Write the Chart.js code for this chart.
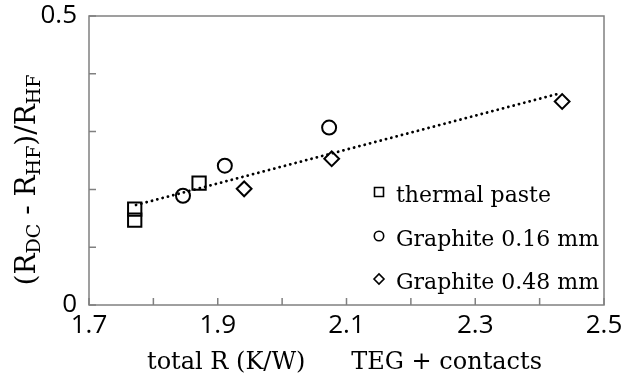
<!DOCTYPE html>
<html><head><meta charset="utf-8">
<script src="https://cdn.jsdelivr.net/npm/chart.js@4.4.0/dist/chart.umd.min.js"></script>
<style>html,body{margin:0;padding:0;background:#fff}#wrap{width:632px;height:380px;position:relative}</style>
</head><body><div id="wrap"><canvas id="c"></canvas></div>
<script>
const seriesNames = ['thermal paste', 'Graphite 0.16 mm', 'Graphite 0.48 mm'];
const pasteX = [1.771, 1.771, 1.871];
const pasteY = [0.166, 0.147, 0.211];
const g016X = [1.846, 1.911, 2.073];
const g016Y = [0.189, 0.241, 0.307];
const g048X = [1.941, 2.077, 2.435];
const g048Y = [0.201, 0.253, 0.352];
const trendX = [1.773, 2.431];
const trendY = [0.173, 0.366];
const xTickLabels = ['1.7', '1.9', '2.1', '2.3', '2.5'];
const yTickLabels = ['0', '0.5'];
const xTitle = 'total R (K/W)      TEG + contacts';
const yTitleParts = [['(R', false], ['DC', true], [' - R', false], ['HF', true], [')/R', false], ['HF', true]];

const pts = (xs, ys) => xs.map((x, i) => ({x: x, y: ys[i]}));
const styles = ['rect', 'circle', 'rectRot'];
const radii = [9.4, 7, 7.4];

const datasets = [
  {label: seriesNames[0], data: pts(pasteX, pasteY)},
  {label: seriesNames[1], data: pts(g016X, g016Y)},
  {label: seriesNames[2], data: pts(g048X, g048Y)}
].map((d, i) => Object.assign(d, {
  type: 'scatter', pointStyle: styles[i], pointRadius: radii[i], pointHoverRadius: radii[i],
  borderColor: '#000', backgroundColor: 'rgba(0,0,0,0)', pointBorderWidth: 2, showLine: false
}));
datasets.push({
  type: 'line', label: 'trend', data: pts(trendX, trendY), borderColor: '#000', borderWidth: 2.8,
  borderDash: [0.1, 5.4], borderCapStyle: 'round', pointRadius: 0, fill: false, tension: 0
});

const frame = {
  id: 'frame',
  afterDraw(chart) {
    const ctx = chart.ctx, a = chart.chartArea;
    const xs = chart.scales.x, ys = chart.scales.y;
    ctx.save();
    ctx.strokeStyle = '#808080';
    ctx.lineWidth = 1.5;
    ctx.strokeRect(a.left, a.top, a.right - a.left, a.bottom - a.top);
    ctx.beginPath();
    xs.ticks.forEach(t => { const p = xs.getPixelForValue(t.value); ctx.moveTo(p, a.bottom); ctx.lineTo(p, a.bottom - 7); });
    ys.ticks.forEach(t => { const p = ys.getPixelForValue(t.value); ctx.moveTo(a.left, p); ctx.lineTo(a.left + 7, p); });
    ctx.stroke();

    // x title
    ctx.fillStyle = '#000';
    ctx.font = '24px "DejaVu Serif"';
    ctx.textAlign = 'center';
    ctx.textBaseline = 'alphabetic';
    ctx.fillText(xTitle, (a.left + a.right) / 2 - 2, 369);

    // y title with subscripts
    const big = '28px "DejaVu Serif"', small = '19px "DejaVu Serif"';
    let total = 0;
    yTitleParts.forEach(p => { ctx.font = p[1] ? small : big; total += ctx.measureText(p[0]).width; });
    ctx.translate(35, 180);
    ctx.rotate(-Math.PI / 2);
    ctx.textAlign = 'left';
    let cx = -total / 2;
    yTitleParts.forEach(p => {
      ctx.font = p[1] ? small : big;
      ctx.fillText(p[0], cx, p[1] ? 5 : 0);
      cx += ctx.measureText(p[0]).width;
    });
    ctx.setTransform(1, 0, 0, 1, 0, 0);

    // legend
    const rows = [192, 236, 279];
    ctx.font = '22px "DejaVu Serif"';
    ctx.textAlign = 'left';
    ctx.lineWidth = 1.6;
    ctx.strokeStyle = '#000';
    seriesNames.forEach((name, i) => {
      const y = rows[i], mx = 379;
      ctx.beginPath();
      if (styles[i] === 'rect') ctx.rect(mx - 4.5, y - 4.5, 9, 9);
      else if (styles[i] === 'circle') ctx.arc(mx, y, 4.7, 0, Math.PI * 2);
      else { ctx.moveTo(mx - 5, y); ctx.lineTo(mx, y - 5); ctx.lineTo(mx + 5, y); ctx.lineTo(mx, y + 5); ctx.closePath(); }
      ctx.stroke();
      ctx.fillText(name, 396, y + 10);
    });
    ctx.restore();
  }
};

new Chart(document.getElementById('c'), {
  data: {datasets: datasets},
  options: {
    responsive: true, maintainAspectRatio: false, animation: false,
    layout: {padding: {left: 0, right: 28, top: 16, bottom: 0}},
    plugins: {legend: {display: false}, tooltip: {enabled: false}},
    scales: {
      x: {
        type: 'linear', min: 1.7, max: 2.5,
        ticks: {
          stepSize: 0.1, autoSkip: false, maxRotation: 0, color: '#000', padding: 5,
          font: {family: '"Open Sans"', size: 26},
          callback: (v, i) => (i % 2 === 0 ? xTickLabels[i / 2] : '')
        },
        grid: {display: false, drawTicks: false}, border: {display: false},
        afterFit: s => { s.height = 75; s.paddingLeft = 0; s.paddingRight = 0; }
      },
      y: {
        type: 'linear', min: 0, max: 0.5,
        ticks: {
          stepSize: 0.1, autoSkip: false, color: '#000', padding: 12,
          font: {family: '"Open Sans"', size: 26},
          callback: v => { const l = yTickLabels.find(s => Math.abs(parseFloat(s) - v) < 1e-6); return l === undefined ? '' : l; }
        },
        grid: {display: false, drawTicks: false}, border: {display: false},
        afterFit: s => { s.width = 89; s.paddingTop = 0; s.paddingBottom = 0; }
      }
    }
  },
  plugins: [frame]
});
</script></body></html>
